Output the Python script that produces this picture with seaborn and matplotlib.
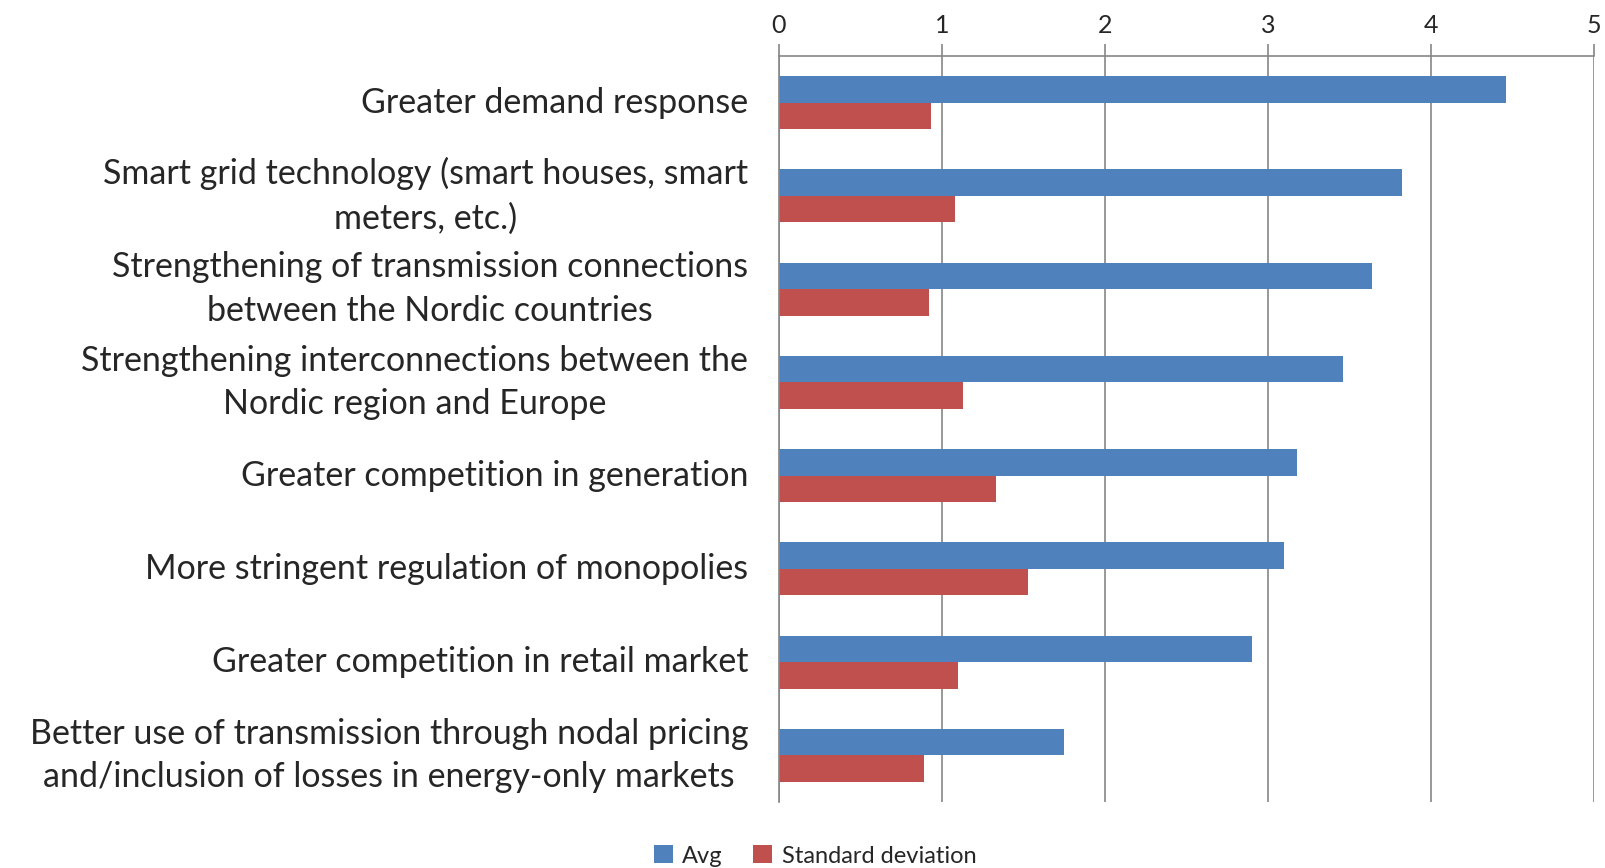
import numpy as np
import pandas as pd
import matplotlib
matplotlib.use('Agg')
import matplotlib.pyplot as plt
import seaborn as sns
from matplotlib.ticker import MultipleLocator, FixedLocator

# data
categories = [
    'Greater demand response',
    'Smart grid technology (smart houses, smart\nmeters, etc.)',
    'Strengthening of transmission connections\nbetween the Nordic countries',
    'Strengthening interconnections between the\nNordic region and Europe',
    'Greater competition in generation',
    'More stringent regulation of monopolies',
    'Greater competition in retail market',
    'Better use of transmission through nodal pricing\nand/inclusion of losses in energy-only markets',
]
avg = [4.46, 3.82, 3.64, 3.46, 3.18, 3.10, 2.90, 1.75]
std_dev = [0.93, 1.08, 0.92, 1.13, 1.33, 1.53, 1.10, 0.89]
series_names = ['Avg', 'Standard deviation']
colors = ['#4F81BD', '#C0504D']

df = pd.DataFrame({
    'category': categories * 2,
    'value': avg + std_dev,
    'series': [series_names[0]] * len(categories) + [series_names[1]] * len(categories),
})

sns.set_style('white')
plt.rcParams['font.family'] = ['Lato', 'DejaVu Sans']
grid_col = '#868686'

fig = plt.figure(figsize=(16.06, 8.68), dpi=100)
ax = fig.add_axes([0.485, 0.076, 0.5075, 0.8595])

sns.barplot(data=df, y='category', x='value', hue='series', orient='h',
            palette=colors, width=0.57, gap=0, linewidth=0, saturation=1,
            ax=ax, legend=True)

ax.set_xlim(0, 5)
ax.set_ylim(len(categories) - 0.5, -0.5)
ax.xaxis.tick_top()
ax.xaxis.set_major_locator(MultipleLocator(1))
ax.set_xlabel('')
ax.set_ylabel('')
ax.grid(axis='x', color=grid_col, linewidth=1.2)
ax.set_axisbelow(True)

# category labels, boundary ticks on the left
ax.set_yticks(range(len(categories)))
ax.set_yticklabels(categories, fontsize=24.5, multialignment='center',
                   linespacing=1.45, va='center')
ax.tick_params(axis='y', which='major', length=0, pad=22)
ax.yaxis.set_minor_locator(FixedLocator(np.arange(-0.5, len(categories), 1)))
ax.tick_params(axis='y', which='minor', length=11, width=1.2, color=grid_col, direction='out')
ax.tick_params(axis='x', length=9, width=1.2, color=grid_col, labelsize=18, pad=5, direction='out')

for side in ['bottom', 'right']:
    ax.spines[side].set_visible(False)
for side in ['top', 'left']:
    ax.spines[side].set_color(grid_col)
    ax.spines[side].set_linewidth(1.2)

handles, labels = ax.get_legend_handles_labels()
ax.get_legend().remove()
fig.legend(handles, labels, loc='center', bbox_to_anchor=(815 / 1606, 1 - 856 / 868),
           ncol=2, frameon=False, fontsize=17, handlelength=0.8, handleheight=0.8,
           handletextpad=0.4, columnspacing=1.3)

fig.savefig('out.png', dpi=100)
